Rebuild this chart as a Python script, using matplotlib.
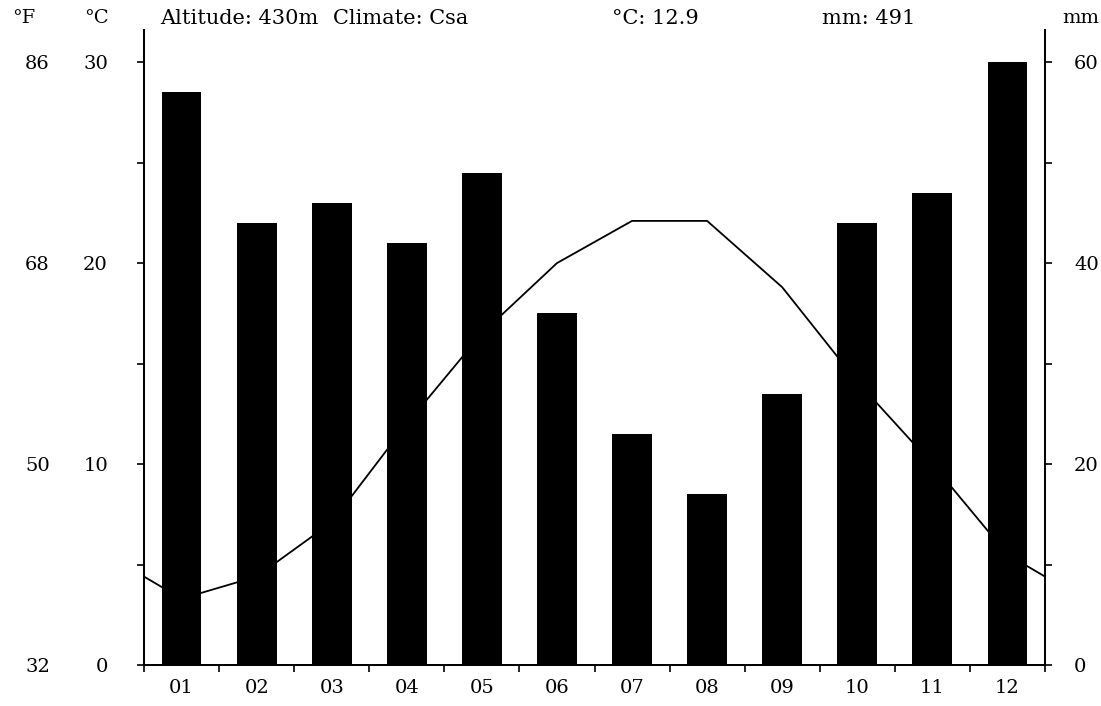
import numpy as np
import matplotlib.pyplot as plt

months = ['01', '02', '03', '04', '05', '06', '07', '08', '09', '10', '11', '12']
temp_c = [3.3, 4.4, 7.1, 12.0, 16.5, 20.0, 22.1, 22.1, 18.8, 14.1, 10.0, 5.5]
precip_mm = [57, 44, 46, 42, 49, 35, 23, 17, 27, 44, 47, 60]
c_ticks = [0, 10, 20, 30]
mm_ticks = [0, 20, 40, 60]
altitude = 430
climate = 'Csa'
mean_c = 12.9
total_mm = 491

plt.rcParams['font.family'] = ['DejaVu Serif']
fs = 14
hfs = 15

W, H = 1101, 706
fig = plt.figure(figsize=(W / 100, H / 100), dpi=100)
ax = fig.add_axes([144 / W, 41 / H, 901 / W, 635 / H])

x = np.arange(len(months)) + 0.5
# wrap Dec before Jan and Jan after Dec so the line runs to the edges
xs = np.concatenate([[x[0] - 1], x, [x[-1] + 1]])
ys = [temp_c[-1]] + temp_c + [temp_c[0]]
ax.plot(xs, ys, color='black', lw=1.3)
ax.set_xlim(0, 12)
ax.set_ylim(0, 31.6)

ax2 = ax.twinx()
ax2.bar(x, precip_mm, width=0.53, color='black')
ax2.set_ylim(0, 63.2)

for a in (ax, ax2):
    a.spines['top'].set_visible(False)
    for s in a.spines.values():
        s.set_linewidth(1.3)

ax.set_xticks(np.arange(13))
ax.set_xticklabels([])
ax.set_xticks(x, minor=True)
ax.set_xticklabels(months, minor=True, fontsize=fs)
ax.tick_params(axis='x', which='major', length=5, width=1.2, direction='out')
ax.tick_params(axis='x', which='minor', length=0, pad=10)

ax.set_yticks(c_ticks)
ax.set_yticks([5, 15, 25], minor=True)
ax.tick_params(axis='y', which='both', length=5, width=1.2, direction='out', labelsize=fs, pad=21)

ax2.set_yticks(mm_ticks)
ax2.set_yticks([10, 30, 50], minor=True)
ax2.tick_params(axis='y', which='both', length=5, width=1.2, direction='out', labelsize=fs, pad=16)

f_ticks = [c * 9 / 5 + 32 for c in c_ticks]
secax = ax.secondary_yaxis((50 - 144) / 901, functions=(lambda c: c * 9 / 5 + 32, lambda f: (f - 32) * 5 / 9))
secax.set_yticks(f_ticks)
secax.set_yticklabels([f'{f:.0f}' for f in f_ticks])
secax.tick_params(axis='y', length=0, pad=0, labelsize=fs)
secax.spines['left'].set_visible(False)

def ptext(px, py, s, ha='left', size=hfs):
    fig.text(px / W, 1 - py / H, s, fontsize=size, ha=ha, va='center')

ptext(12, 18, '°F', size=fs)
ptext(84, 18, '°C', size=fs)
ptext(160, 18, f'Altitude: {altitude}m')
ptext(333, 18, f'Climate: {climate}')
ptext(612, 18, f'°C: {mean_c}')
ptext(822, 18, f'mm: {total_mm}')
ptext(1099, 18, 'mm', ha='right', size=fs)

fig.savefig('out.png', dpi=100)
